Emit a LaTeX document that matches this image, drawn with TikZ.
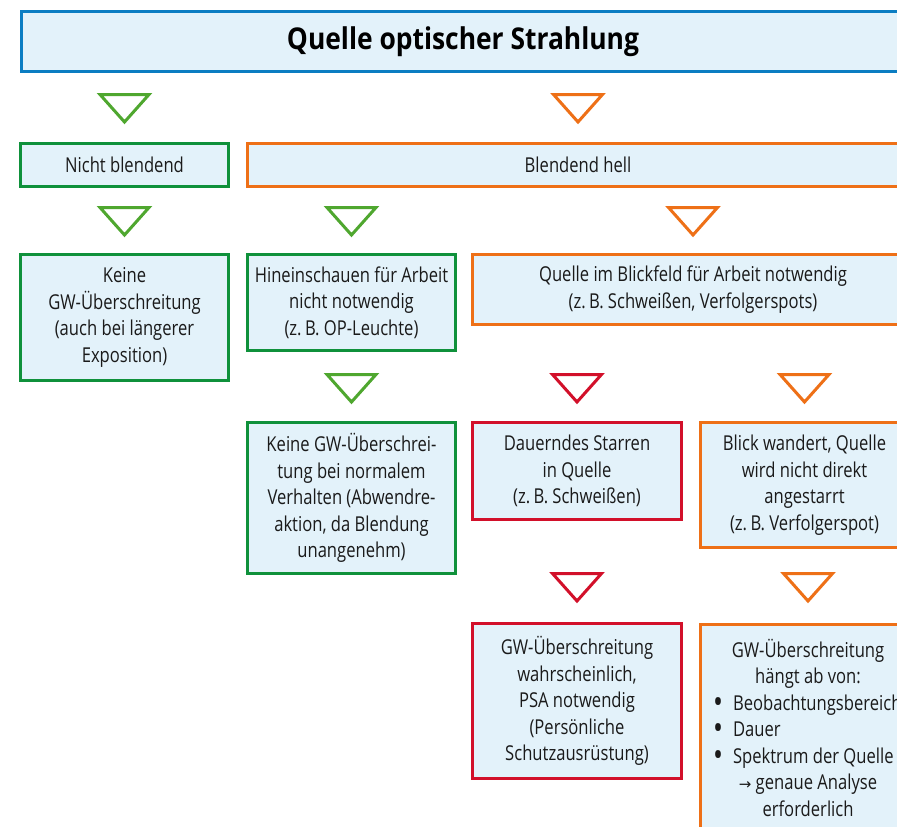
\documentclass[tikz,border=0pt]{standalone}
\usepackage{fontspec}
\setmainfont{Open Sans}[FakeStretch=0.81]
\newfontfamily\titlef{Open Sans}[FakeStretch=0.88]
\newfontfamily\symf{DejaVu Sans}
\definecolor{boxfill}{HTML}{E3F2FA}
\definecolor{bbord}{HTML}{0B7DC2}
\definecolor{gbord}{HTML}{0F913B}
\definecolor{tgreen}{HTML}{4FA72F}
\definecolor{obord}{HTML}{EE7017}
\definecolor{rbord}{HTML}{D2102A}
\definecolor{txt}{HTML}{1A1A1A}
\newcommand\bul{\makebox[20pt][l]{\raisebox{-3.2pt}{\scalebox{1.6}{\textbullet}}}}
\begin{document}
\begin{tikzpicture}[x=1pt,y=-1pt,
  box/.style={draw, line width=3pt, fill=boxfill, inner sep=0pt, align=center, text=txt,
    font=\fontsize{20.5}{26.5}\selectfont},
  gbox/.style={box, draw=gbord},
  obox/.style={box, draw=obord},
  rbox/.style={box, draw=rbord},
  down/.pic={\draw[line width=3pt, line join=miter] (-24.5,0) -- (24.5,0) -- (0,27.5) -- cycle;}
]
\clip (0,0) rectangle (897,827);
\useasboundingbox (0,0) rectangle (897,827);
\fill[white] (0,0) rectangle (897,827);

\node[box, draw=bbord, minimum width=883pt, minimum height=60pt, text=black,
  font=\titlef\fontsize{30}{34}\selectfont\bfseries] (title) at (463,41.5) {Quelle optischer Strahlung};

\node[gbox, minimum width=208pt, minimum height=43pt] (nb) at (124.5,165) {Nicht blendend};
\node[obox, minimum width=661pt, minimum height=43pt] (bh) at (578,165) {Blendend hell};

\node[gbox, minimum width=208pt, minimum height=126pt] (keine) at (124.5,317.5)
  {Keine\\GW-Überschreitung\\(auch bei längerer\\Exposition)};
\node[gbox, minimum width=208pt, minimum height=96pt] (hin) at (351.5,302.5)
  {Hineinschauen für Arbeit\\nicht notwendig\\(z.\,B. OP-Leuchte)};
\node[obox, minimum width=441pt, minimum height=70pt] (qb) at (693,289.5)
  {Quelle im Blickfeld für Arbeit notwendig\\(z.\,B. Schweißen, Verfolgerspots)};

\node[gbox, minimum width=208pt, minimum height=151pt] (kn) at (351.5,498)
  {Keine GW-Überschrei-\\tung bei normalem\\Verhalten (Abwendre-\\aktion, da Blendung\\unangenehm)};
\node[rbox, minimum width=209pt, minimum height=97pt] (star) at (577,471)
  {Dauerndes Starren\\in Quelle\\(z.\,B. Schweißen)};
\node[obox, minimum width=208pt, minimum height=125pt] (bw) at (804.5,485)
  {Blick wandert, Quelle\\wird nicht direkt\\angestarrt\\(z.\,B. Verfolgerspot)};

\node[rbox, minimum width=209pt, minimum height=155pt] (psa) at (577,701)
  {GW-Überschreitung\\wahrscheinlich,\\PSA notwendig\\(Persönliche\\Schutzausrüstung)};
\node[obox, minimum width=215pt, minimum height=206pt] (dep) at (808,727.5)
  {GW-Überschreitung\\hängt ab von:\\
   \makebox[190pt][l]{\bul Beobachtungsbereich}\\
   \makebox[190pt][l]{\bul Dauer}\\
   \makebox[190pt][l]{\bul Spektrum der Quelle}\\
   {\symf\fontsize{15}{26.5}\selectfont →}\ genaue Analyse\\erforderlich};

\coordinate (r1) at (0,94.5);
\coordinate (r2) at (0,207.5);
\coordinate (r4) at (0,374.5);
\coordinate (r6) at (0,573.5);

\pic[color=tgreen] at (nb.center |- r1) {down};
\pic[color=obord] at (bh.center |- r1) {down};
\pic[color=tgreen] at (keine.center |- r2) {down};
\pic[color=tgreen] at (hin.center |- r2) {down};
\pic[color=obord] at (qb.center |- r2) {down};
\pic[color=tgreen] at (kn.center |- r4) {down};
\pic[color=rbord] at (star.center |- r4) {down};
\pic[color=obord] at (bw.center |- r4) {down};
\pic[color=rbord] at (psa.center |- r6) {down};
\pic[color=obord] at (dep.center |- r6) {down};
\end{tikzpicture}
\end{document}
